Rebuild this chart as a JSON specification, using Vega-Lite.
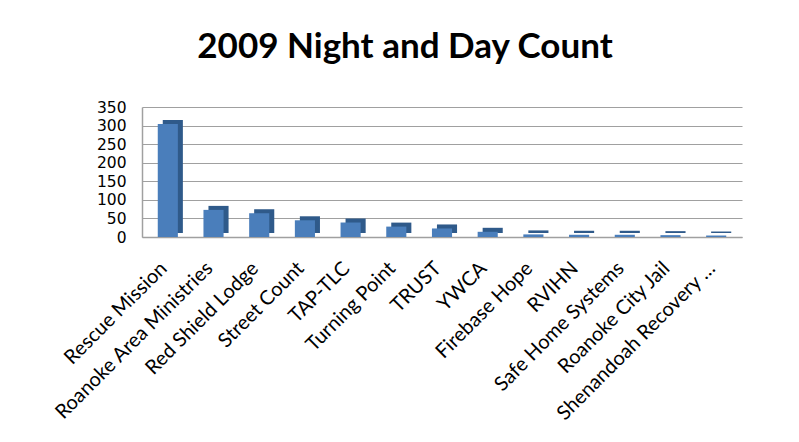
{
  "$schema": "https://vega.github.io/schema/vega-lite/v6.json",
  "width": 600,
  "height": 130,
  "autosize": {"type": "none"},
  "padding": {"left": 142, "top": 107, "right": 57, "bottom": 205},
  "background": "white",
  "title": {"text": "2009 Night and Day Count", "font": "Lato", "fontSize": 35, "fontWeight": "bold", "color": "black", "anchor": "middle", "frame": "group", "dx": -37, "offset": 35},
  "data": {"values": [
    {"name": "Rescue Mission", "count": 304},
    {"name": "Roanoke Area Ministries", "count": 73},
    {"name": "Red Shield Lodge", "count": 64},
    {"name": "Street Count", "count": 45},
    {"name": "TAP-TLC", "count": 39},
    {"name": "Turning Point", "count": 28},
    {"name": "TRUST", "count": 23},
    {"name": "YWCA", "count": 14},
    {"name": "Firebase Hope", "count": 7},
    {"name": "RVIHN", "count": 6},
    {"name": "Safe Home Systems", "count": 6},
    {"name": "Roanoke City Jail", "count": 5},
    {"name": "Shenandoah Recovery …", "count": 4}
  ]},
  "encoding": {
    "x": {"field": "name", "type": "nominal", "sort": null, "title": null,
      "scale": {"paddingInner": 0.56, "paddingOuter": 0.345},
      "axis": {"labelAngle": -45, "labelAlign": "right", "labelBaseline": "middle", "labelFont": "Lato", "labelFontSize": 20, "labelColor": "black", "ticks": false, "domainColor": "#a0a0a0", "domainWidth": 1.5, "labelPadding": 28, "labelOffset": -4, "labelLimit": 400}},
    "y": {"field": "count", "type": "quantitative", "title": null,
      "scale": {"domain": [0, 350]},
      "axis": {"values": [0, 50, 100, 150, 200, 250, 300, 350], "labelFont": "DejaVu Sans", "labelFontSize": 15.5, "labelColor": "black", "ticks": false, "domainColor": "#a0a0a0", "domainWidth": 1.5, "gridColor": "#a0a0a0", "gridWidth": 1.2, "labelPadding": 16}}
  },
  "layer": [
    {"mark": {"type": "bar", "color": "#2f5a8a", "xOffset": 5, "yOffset": -4}},
    {"mark": {"type": "bar", "color": "#4a7ebb"}}
  ],
  "config": {"view": {"stroke": null}}
}
